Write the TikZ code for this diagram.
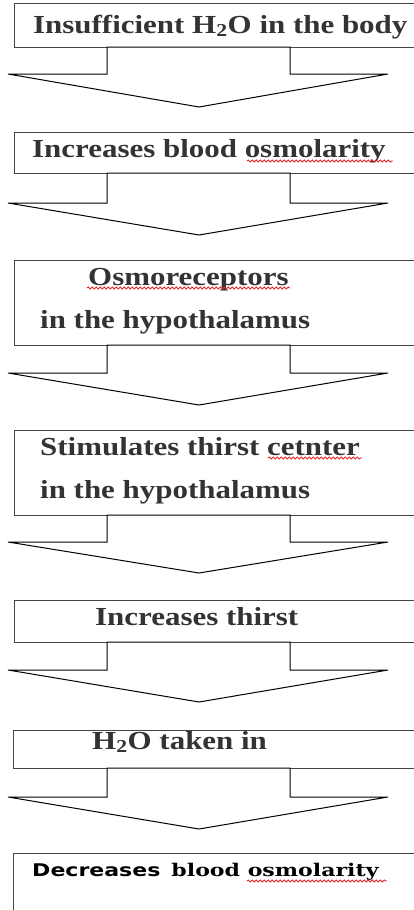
\documentclass[tikz,border=0pt]{standalone}
\usepackage{fontspec}
\setmainfont{Liberation Serif}
\newfontfamily\dvsans{DejaVu Sans}
\newfontfamily\dvserif{DejaVu Serif}
\usetikzlibrary{decorations.pathmorphing}
\definecolor{txtgray}{HTML}{333333}
\definecolor{boxgray}{HTML}{444444}
\definecolor{wavyred}{HTML}{E02828}
\newcommand{\widetext}[1]{\scalebox{1.19}[1]{#1}}
\newcommand{\widerlast}[1]{\scalebox{1.26}[1]{#1}}
\newcommand{\blockarrow}[3]{%
  \draw[arr] (107,#1) -- (107,#2) -- (8,#2) -- (199,#3) -- (388,#2) -- (290,#2) -- (290,#1) -- cycle;}
\begin{document}
\begin{tikzpicture}[x=1pt,y=-1pt,
  box/.style={draw=boxgray, line width=1.4pt, fill=white, inner sep=0pt, anchor=north west, minimum width=430pt},
  lbl/.style={inner sep=0pt, anchor=base west, text=txtgray, font=\fontsize{26}{30}\selectfont\bfseries},
  lastlbl/.style={inner sep=0pt, anchor=base west, text=black, font=\fontsize{17.5}{20}\selectfont\bfseries},
  arr/.style={draw=black, line width=1pt, fill=white, line join=miter},
  wavy/.style={draw=wavyred, line width=0.9pt, decorate, decoration={snake, amplitude=1pt, segment length=4pt}}]
\clip (0,0) rectangle (414,910);
\useasboundingbox (0,0) rectangle (414,910);
% boxes
\node[box, minimum height=44pt] (b1) at (14,3) {};
\blockarrow{47}{74}{107}
\node[box, minimum height=41pt] (b2) at (14,132) {};
\blockarrow{173}{203}{235}
\node[box, minimum height=85pt] (b3) at (14,260) {};
\blockarrow{345}{373}{405}
\node[box, minimum height=85pt] (b4) at (14,430) {};
\blockarrow{515}{542}{573}
\node[box, minimum height=42pt] (b5) at (14,600) {};
\blockarrow{642}{670}{702}
\node[box, minimum height=38pt] (b6) at (13,730) {};
\blockarrow{768}{797}{829}
\node[box, minimum height=80pt] (b7) at (13,853) {};
% labels
\node[lbl] (t1) at (33,33) {\widetext{Insufficient H\textsubscript{2}O in the body}};
\node[lbl] (t2) at (32,157) {\widetext{Increases blood osmolarity}};
\node[lbl] (t3a) at (88,285) {\widetext{Osmoreceptors}};
\node[lbl] (t3b) at (40,328) {\widetext{in the hypothalamus}};
\node[lbl] (t4a) at (40,455) {\widetext{Stimulates thirst cetnter}};
\node[lbl] (t4b) at (40,498) {\widetext{in the hypothalamus}};
\node[lbl] (t5) at (95,625) {\widetext{Increases thirst}};
\node[lbl] (t6) at (92,749) {\widetext{H\textsubscript{2}O taken in}};
\node[lastlbl] (t7) at (32,876) {\widerlast{{\dvsans Decreases}\ \ {\dvserif blood osmolarity}}};
% spell-check underlines
\draw[wavy] (247,161) -- (393,161);
\draw[wavy] (87,288) -- (290,288);
\draw[wavy] (268,458) -- (362,458);
\draw[wavy] (247,881) -- (387,881);
\end{tikzpicture}
\end{document}
